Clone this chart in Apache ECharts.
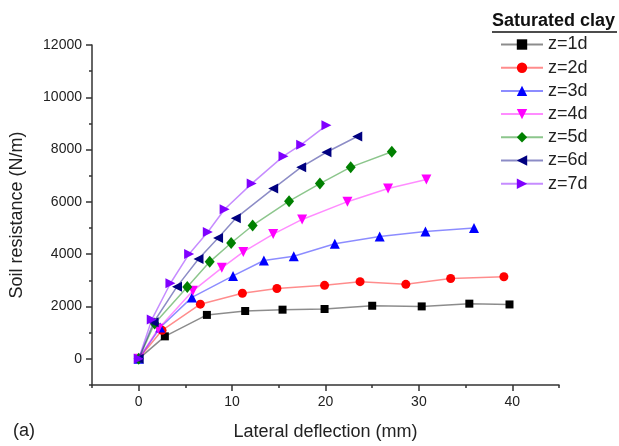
<!DOCTYPE html>
<html>
<head>
<meta charset="utf-8">
<script src="https://cdn.jsdelivr.net/npm/echarts@6/dist/echarts.min.js"></script>
<style>html,body{margin:0;padding:0;background:#fff;}#c{width:619px;height:446px;}</style>
</head>
<body>
<div id="c"></div>
<script>
var seriesNames = ['z=1d','z=2d','z=3d','z=4d','z=5d','z=6d','z=7d'];
var x1 = [0, 2.8, 7.3, 11.4, 15.4, 19.9, 25.0, 30.3, 35.4, 39.7];
var y1 = [0, 860, 1680, 1830, 1880, 1905, 2030, 2005, 2110, 2080];
var x2 = [0, 2.5, 6.6, 11.1, 14.8, 19.9, 23.7, 28.6, 33.4, 39.1];
var y2 = [0, 1090, 2090, 2510, 2690, 2810, 2950, 2850, 3070, 3140];
var x3 = [0, 2.3, 5.7, 10.1, 13.4, 16.6, 21.0, 25.8, 30.7, 35.9];
var y3 = [0, 1200, 2350, 3170, 3760, 3925, 4400, 4680, 4870, 5000];
var x4 = [0, 2.1, 5.8, 8.9, 11.2, 14.4, 17.5, 22.35, 26.7, 30.8];
var y4 = [0, 1150, 2600, 3480, 4090, 4770, 5330, 6010, 6510, 6860];
var x5 = [0, 1.7, 5.2, 7.6, 9.9, 12.2, 16.1, 19.4, 22.7, 27.1];
var y5 = [0, 1350, 2750, 3710, 4430, 5100, 6030, 6700, 7330, 7920];
var x6 = [0, 1.6, 4.1, 6.4, 8.5, 10.4, 14.4, 17.4, 20.1, 23.4];
var y6 = [0, 1400, 2760, 3820, 4620, 5380, 6510, 7330, 7900, 8500];
var x7 = [0, 1.4, 3.4, 5.4, 7.4, 9.2, 12.1, 15.5, 17.4, 20.1];
var y7 = [0, 1500, 2890, 4010, 4850, 5720, 6700, 7750, 8190, 8930];
var xTickLabels = [0, 10, 20, 30, 40];
var yTickLabels = [0, 2000, 4000, 6000, 8000, 10000, 12000];

var xs = [x1,x2,x3,x4,x5,x6,x7];
var ys = [y1,y2,y3,y4,y5,y6,y7];
var colors = ['#000000','#ff0000','#0000ff','#ff00ff','#008000','#000080','#8000ff'];
var symbols = ['rect','circle','triangle','path://M0,0L10,0L5,9Z','diamond','path://M0,5L9,0L9,10Z','path://M0,0L9,5L0,10Z'];
var sizes = [8, 9, 10, 10, [10,12], 10, 10];

var font = 'Liberation Sans, Arial, sans-serif';
var axisColor = '#333';
var series = seriesNames.map(function(n, i){
  return {
    name: n, type: 'line', xAxisIndex: 0, yAxisIndex: 0,
    data: xs[i].map(function(v, k){ return [v, ys[i][k]]; }),
    symbol: symbols[i], symbolSize: sizes[i], showAllSymbol: true,
    itemStyle: {color: colors[i], opacity: 1},
    lineStyle: {color: colors[i], width: 1.5, opacity: 0.45},
    z: 2 + i
  };
});

var chart = echarts.init(document.getElementById('c'));
chart.setOption({
  animation: false,
  grid: {left: 91.5, right: 60, top: 45, bottom: 56},
  xAxis: [{
    type: 'value', min: -5, max: 45,
    name: 'Lateral deflection (mm)', nameLocation: 'middle', nameGap: 38,
    nameTextStyle: {fontFamily: font, fontSize: 18, color: '#222'},
    axisLine: {show: true, onZero: false, lineStyle: {color: axisColor, width: 1.5}},
    axisTick: {show: true, length: 6, lineStyle: {color: axisColor, width: 1.5}, customValues: xTickLabels},
    axisLabel: {fontFamily: font, fontSize: 14, color: '#222', margin: 10, customValues: xTickLabels},
    splitLine: {show: false}
  }, {
    type: 'value', min: -5, max: 45, interval: 5, position: 'bottom',
    axisLine: {show: false, onZero: false},
    axisTick: {show: true, length: 3, lineStyle: {color: axisColor, width: 1.5}},
    axisLabel: {show: false}, splitLine: {show: false}
  }],
  yAxis: [{
    type: 'value', min: -1000, max: 12000,
    name: 'Soil resistance (N/m)', nameLocation: 'middle', nameGap: 66,
    nameTextStyle: {fontFamily: font, fontSize: 18, color: '#222'},
    axisLine: {show: true, onZero: false, lineStyle: {color: axisColor, width: 1.5}},
    axisTick: {show: true, length: 6, lineStyle: {color: axisColor, width: 1.5}, customValues: yTickLabels},
    axisLabel: {fontFamily: font, fontSize: 14, color: '#222', margin: 10, customValues: yTickLabels,
      formatter: function(v){ return String(v); }},
    splitLine: {show: false}
  }, {
    type: 'value', min: -1000, max: 12000, interval: 1000, position: 'left',
    axisLine: {show: false, onZero: false},
    axisTick: {show: true, length: 3, lineStyle: {color: axisColor, width: 1.5}},
    axisLabel: {show: false}, splitLine: {show: false}
  }],
  legend: {
    orient: 'vertical', left: 500, top: 35.5, padding: 0,
    itemWidth: 42, itemHeight: 13, itemGap: 5.2,
    textStyle: {fontFamily: font, fontSize: 18, color: '#222'},
    data: seriesNames
  },
  graphic: [
    {type: 'text', left: 492, top: 12, style: {text: 'Saturated clay', fontFamily: font, fontSize: 18, fontWeight: 'bold', fill: '#111'}},
    {type: 'line', shape: {x1: 492, y1: 32, x2: 617, y2: 32}, style: {stroke: '#111', lineWidth: 1.5}},
    {type: 'text', left: 13, top: 422, style: {text: '(a)', fontFamily: font, fontSize: 18, fill: '#222'}}
  ],
  series: series
});
</script>
</body>
</html>
